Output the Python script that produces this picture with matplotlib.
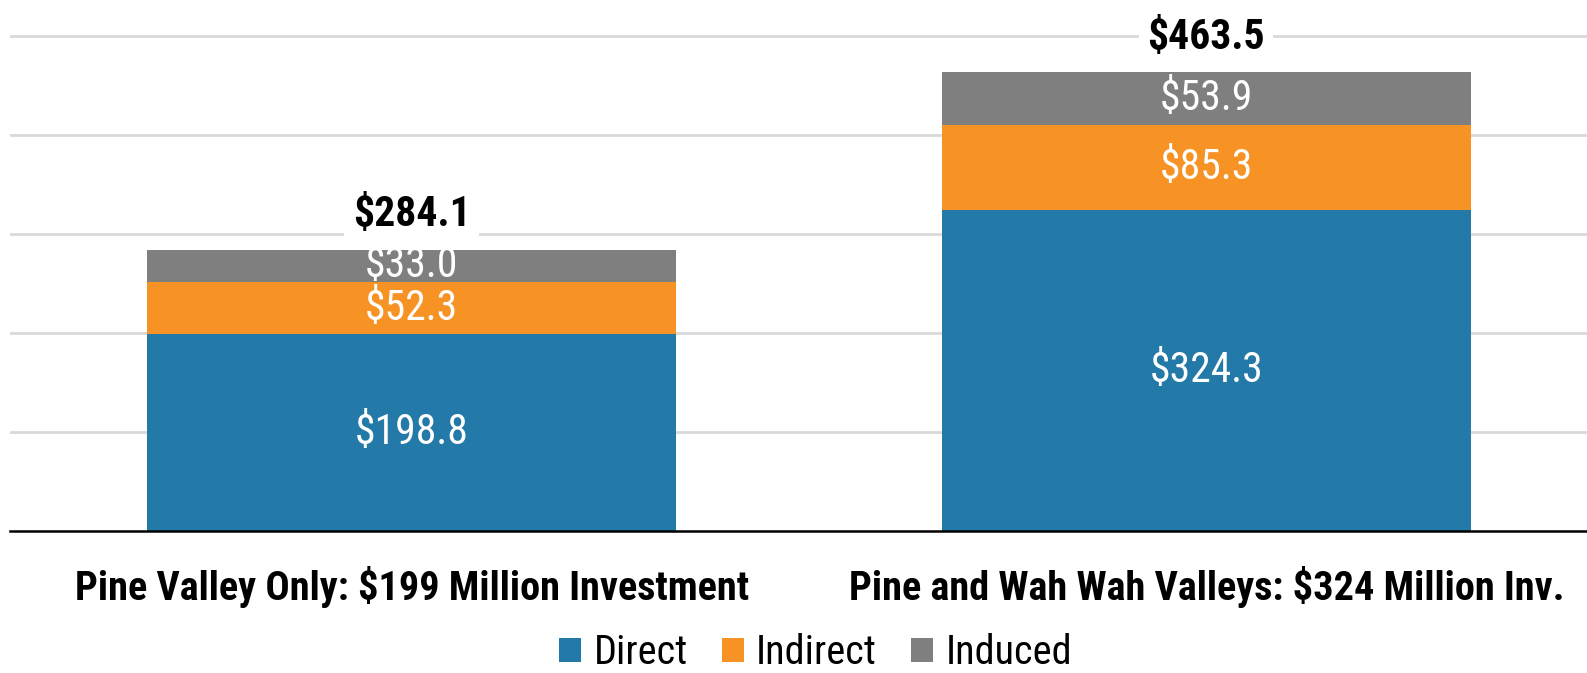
import matplotlib.pyplot as plt
import numpy as np

# data
scenarios = ['Pine Valley Only: $199 Million Investment',
             'Pine and Wah Wah Valleys: $324 Million Inv.']
direct = [198.8, 324.3]
indirect = [52.3, 85.3]
induced = [33.0, 53.9]
totals = [284.1, 463.5]
series_names = ['Direct', 'Indirect', 'Induced']
colors = ['#2379a7', '#f69324', '#7f7f7f']

plt.rcParams['font.family'] = ['Roboto Condensed', 'Archivo Narrow', 'Liberation Sans', 'DejaVu Sans']

fig = plt.figure(figsize=(15.87, 6.73), dpi=100)
ax = fig.add_axes([0.006, 0.211, 0.994, 0.789])

x = np.arange(len(scenarios))
w = 0.665
bottom = np.zeros(len(x))
for vals, name, c in zip([direct, indirect, induced], series_names, colors):
    ax.bar(x, vals, w, bottom=bottom, color=c, label=name, zorder=2)
    for xi, b, v in zip(x, bottom, vals):
        ax.text(xi, b + v / 2, f'${v:.1f}', ha='center', va='center',
                color='white', fontsize=30, zorder=3)
    bottom += np.array(vals)

for xi, t in zip(x, totals):
    ax.text(xi, t + 35, f'${t:.1f}', ha='center', va='center', fontsize=30,
            fontweight='bold', zorder=4,
            bbox=dict(facecolor='white', edgecolor='none', pad=6))

ax.set_xlim(-0.506, 1.479)
ax.set_ylim(0, 536)
ax.set_yticks([100, 200, 300, 400, 500])
ax.yaxis.grid(True, color='#d9d9d9', lw=2, zorder=0)
ax.set_axisbelow(True)
ax.tick_params(axis='y', left=False, labelleft=False)
ax.tick_params(axis='x', length=0, pad=25)
ax.set_xticks(x)
ax.set_xticklabels(scenarios, fontsize=29, fontweight='bold')
for s in ['top', 'right', 'left']:
    ax.spines[s].set_visible(False)
ax.spines['bottom'].set_linewidth(1.8)

fig.legend(loc='center', bbox_to_anchor=(0.514, 0.03), ncol=3, frameon=False,
           fontsize=29, handlelength=0.55, handleheight=0.55, handletextpad=0.3,
           columnspacing=0.85)

fig.savefig('out.png', dpi=100)
